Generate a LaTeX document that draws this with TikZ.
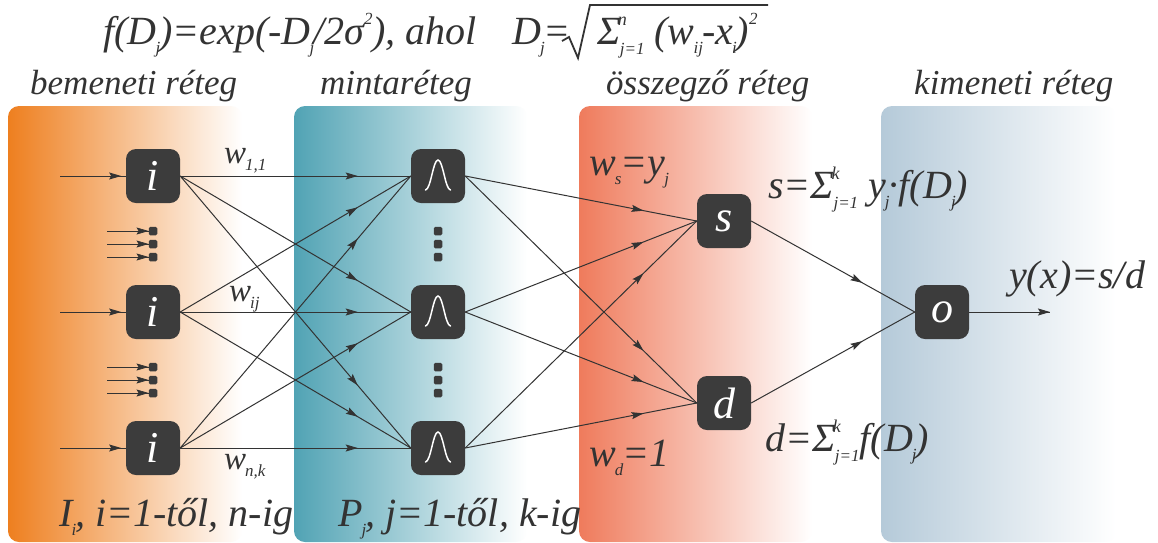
\documentclass[tikz,border=0pt]{standalone}
\usepackage{fontspec}
\setmainfont{Liberation Serif}
\usetikzlibrary{arrows.meta,decorations.markings}
\definecolor{ink}{HTML}{333333}
\definecolor{boxc}{HTML}{3C3C3C}
\definecolor{orangec}{HTML}{EE7F1F}
\definecolor{tealc}{HTML}{51A3B4}
\definecolor{redc}{HTML}{EF7B5C}
\definecolor{bluec}{HTML}{B5CAD9}
\newcommand\fsz[1]{\fontsize{#1}{#1}\selectfont}
\newcommand\lowsub[1]{\hspace{-1pt}\raisebox{-.24em}{\fsz{17}#1}\hspace{-1pt}}
\newcommand\sumlim[2]{Σ\hspace{-3pt}\rlap{\raisebox{.47em}{\fsz{18}#2}}\hspace{2pt}\raisebox{-.27em}{\fsz{17}#1}}
\tikzset{
  x=1pt,y=-1pt,
  panel/.style={rounded corners=11pt,right color=white,left color=#1},
  unitbox/.style={rectangle,rounded corners=10pt,fill=boxc,minimum width=54pt,minimum height=54pt,inner sep=0pt,text=white,font=\itshape\fsz{44}},
  dotbox/.style={rectangle,rounded corners=1.5pt,fill=boxc,minimum size=8.5pt,inner sep=0pt},
  flow/.style={draw=ink,line width=1pt,postaction={decorate},decoration={markings,mark=at position #1 with {\arrow{Stealth[length=12pt,width=7pt,inset=2pt]}}}},
  flow/.default=0.77,
  smallflow/.style={draw=ink,line width=.7pt,postaction={decorate},decoration={markings,mark=at position 1 with {\arrow{Stealth[length=12pt,width=7pt,inset=2pt]}}}},
  lab/.style={anchor=base west,inner sep=0pt,text=ink,font=\itshape\fsz{#1}},
  lab/.default=35,
}
\begin{document}
\begin{tikzpicture}
\useasboundingbox (0,0) rectangle (1158,542);
\fill[white] (0,0) rectangle (1158,542);
% panels
\shade[panel=orangec] (8,106) rectangle (242,542);
\shade[panel=tealc] (294,106) rectangle (527,542);
\shade[panel=redc] (579,106) rectangle (812,542);
\shade[panel=bluec] (881,106) rectangle (1116,542);
% units
\node[unitbox] (i1) at (153,176) {i};
\node[unitbox] (i2) at (153,312) {i};
\node[unitbox] (i3) at (153,448) {i};
\node[unitbox] (g1) at (438,176) {};
\node[unitbox] (g2) at (438,312) {};
\node[unitbox] (g3) at (438,448) {};
\node[unitbox] (s) at (724,221) {s};
\node[unitbox] (d) at (724,403) {d};
\node[unitbox] (o) at (942,312) {o};
% bell curves
\foreach \g in {g1,g2,g3}
  \draw[white,line width=1.5pt,line cap=round] ([shift={(-12.5,14)}]\g.center) .. controls ([shift={(-7,13)}]\g.center) and ([shift={(-5,-16)}]\g.center) .. ([shift={(0,-16)}]\g.center) .. controls ([shift={(5,-16)}]\g.center) and ([shift={(7,13)}]\g.center) .. ([shift={(12.5,14)}]\g.center);
% stacked dots
\foreach \n/\x/\y in {a1/153/231,a2/153/244,a3/153/257,b1/153/367,b2/153/380,b3/153/393,c1/438/231,c2/438/244,c3/438/257,e1/438/367,e2/438/380,e3/438/393}
  \node[dotbox] (\n) at (\x,\y) {};
% free ends
\coordinate (in1) at (60,176);
\coordinate (in2) at (60,312);
\coordinate (in3) at (60,448);
\coordinate (out) at (1050,312);
\foreach \n/\y in {a1/231,a2/244,a3/257,b1/367,b2/380,b3/393}
  \coordinate (t\n) at (107,\y);
% connectors
\foreach \k in {1,2,3} \draw[flow=0.93] (in\k) -- (i\k.west);
\foreach \n in {a1,a2,a3,b1,b2,b3} \draw[smallflow] (t\n) -- (\n.west);
\foreach \a in {i1,i2,i3} \foreach \b in {g1,g2,g3} \draw[flow] (\a.east) -- (\b.west);
\foreach \a in {g1,g2,g3} \foreach \b in {s,d} \draw[flow] (\a.east) -- (\b.west);
\draw[flow=0.68] (s.east) -- (o.west);
\draw[flow=0.68] (d.east) -- (o.west);
\draw[flow=1] (o.east) -- (out);
% title
\node[lab=40] (title) at (103,44) {f(D\lowsub{j})=exp(-D\lowsub{j}/2σ\raisebox{.5em}{\fsz{17}2}), ahol};
\node[lab=40] (dj) at (512,44) {D\lowsub{j}=};
\draw[ink,line width=1.8pt] (562,41) -- (569,37) -- (578,58) -- (590,5) -- (768,5);
\node[lab=40] (rad) at (597,44) {\sumlim{j=1}{n} (w\lowsub{ij}-x\lowsub{i})\raisebox{.5em}{\fsz{17}2}};
% layer names
\node[lab] (n1) at (30,94) {bemeneti réteg};
\node[lab] (n2) at (320,94) {mintaréteg};
\node[lab] (n3) at (606,94) {összegző réteg};
\node[lab] (n4) at (914,94) {kimeneti réteg};
% weights
\node[lab=33] (w11) at (224,163) {w\lowsub{1,1}};
\node[lab=33] (wij) at (229,301) {w\lowsub{ij}};
\node[lab=33] (wnk) at (224,469) {w\lowsub{n,k}};
\node[lab=40] (wis) at (589,175) {w\lowsub{s}=y\lowsub{j}};
\node[lab=40] (wid) at (589,466) {w\lowsub{d}=1};
% formulas
\node[lab=40] (fs) at (768,198) {s=\sumlim{j=1}{k} y\lowsub{j}·f(D\lowsub{j})};
\node[lab=40] (fd) at (765,451) {d=\sumlim{j=1}{k}f(D\lowsub{j})};
\node[lab=40] (fy) at (1009,288) {y(x)=s/d};
\node[lab=40] (ii) at (59,526) {I\lowsub{i}, i=1-től, n-ig};
\node[lab=40] (pj) at (338,526) {P\lowsub{j}, j=1-től, k-ig};
\end{tikzpicture}
\end{document}
